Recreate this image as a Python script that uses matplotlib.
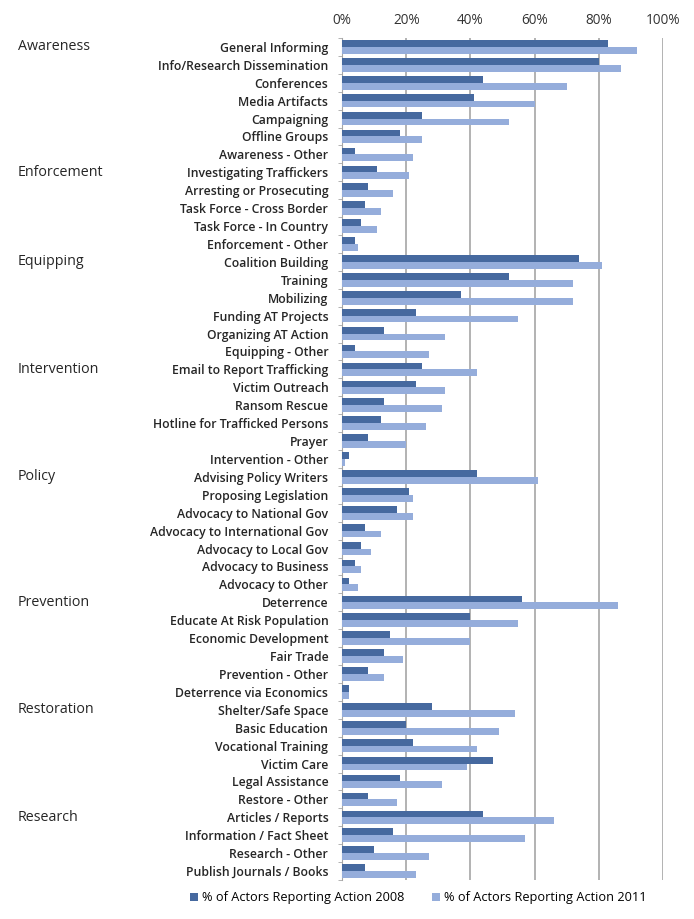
import matplotlib.pyplot as plt
import numpy as np

# groups and actions (top to bottom)
groups = ["Awareness", "Enforcement", "Equipping", "Intervention",
          "Policy", "Prevention", "Restoration", "Research"]
actions = [
    ["General Informing", "Info/Research Dissemination", "Conferences",
     "Media Artifacts", "Campaigning", "Offline Groups", "Awareness - Other"],
    ["Investigating Traffickers", "Arresting or Prosecuting",
     "Task Force - Cross Border", "Task Force - In Country", "Enforcement - Other"],
    ["Coalition Building", "Training", "Mobilizing", "Funding AT Projects",
     "Organizing AT Action", "Equipping - Other"],
    ["Email to Report Trafficking", "Victim Outreach", "Ransom Rescue",
     "Hotline for Trafficked Persons", "Prayer", "Intervention - Other"],
    ["Advising Policy Writers", "Proposing Legislation", "Advocacy to National Gov",
     "Advocacy to International Gov", "Advocacy to Local Gov",
     "Advocacy to Business", "Advocacy to Other"],
    ["Deterrence", "Educate At Risk Population", "Economic Development",
     "Fair Trade", "Prevention - Other", "Deterrence via Economics"],
    ["Shelter/Safe Space", "Basic Education", "Vocational Training",
     "Victim Care", "Legal Assistance", "Restore - Other"],
    ["Articles / Reports", "Information / Fact Sheet", "Research - Other",
     "Publish Journals / Books"],
]

pct_2008 = [83, 80, 44, 41, 25, 18, 4,
            11, 8, 7, 6, 4,
            74, 52, 37, 23, 13, 4,
            25, 23, 13, 12, 8, 2,
            42, 21, 17, 7, 6, 4, 2,
            56, 40, 15, 13, 8, 2,
            28, 20, 22, 47, 18, 8,
            44, 16, 10, 7]
pct_2011 = [92, 87, 70, 60, 52, 25, 22,
            21, 16, 12, 11, 5,
            81, 72, 72, 55, 32, 27,
            42, 32, 31, 26, 20, 1,
            61, 22, 22, 12, 9, 6, 5,
            86, 55, 40, 19, 13, 2,
            54, 49, 42, 39, 31, 17,
            66, 57, 27, 23]

x_ticks = [0, 20, 40, 60, 80, 100]

labels = [a for grp in actions for a in grp]
y = np.arange(len(labels))

plt.rcParams['font.family'] = ['Open Sans', 'DejaVu Sans']

fig = plt.figure(figsize=(6.94, 9.19), dpi=100)
ax = fig.add_axes([0.493, 0.0424, 0.462, 0.9163])

bh = 0.38
ax.barh(y - bh / 2, pct_2008, height=bh, color='#46699f',
        label='% of Actors Reporting Action 2008', zorder=3)
ax.barh(y + bh / 2, pct_2011, height=bh, color='#95addb',
        label='% of Actors Reporting Action 2011', zorder=3)

ax.set_xlim(0, 100)
ax.set_ylim(len(labels) - 0.5, -0.5)
ax.set_xticks(x_ticks)
ax.set_xticklabels([f"{v}%" for v in x_ticks], fontsize=9.8, color='#333333')
ax.xaxis.tick_top()
ax.tick_params(axis='x', length=0, pad=7)
ax.grid(axis='x', color='#a6a6a6', linewidth=1.2, zorder=0)

ax.set_yticks(y)
ax.set_yticklabels(labels, fontsize=8.8, fontweight='semibold', color='#262626')
ax.set_yticks(np.arange(-0.5, len(labels), 1), minor=True)
ax.tick_params(axis='y', which='major', length=0, pad=10)
ax.tick_params(axis='y', which='minor', length=3, color='#a6a6a6')

for s in ['top', 'right', 'bottom']:
    ax.spines[s].set_visible(False)
ax.spines['left'].set_color('#a6a6a6')

# group labels at first row of each group
start = 0
for g, grp in zip(groups, actions):
    ax.text((18 / 694 - 0.493) / 0.462, start, g,
            transform=ax.get_yaxis_transform(), fontsize=10.3,
            color='#262626', va='center', ha='left')
    start += len(grp)

fig.legend(loc='center', bbox_to_anchor=(0.603, 0.023), ncol=2, frameon=False,
           fontsize=9.2, handlelength=0.6, handleheight=0.6, columnspacing=2.2,
           handletextpad=0.3)

fig.savefig('out.png', dpi=100)
